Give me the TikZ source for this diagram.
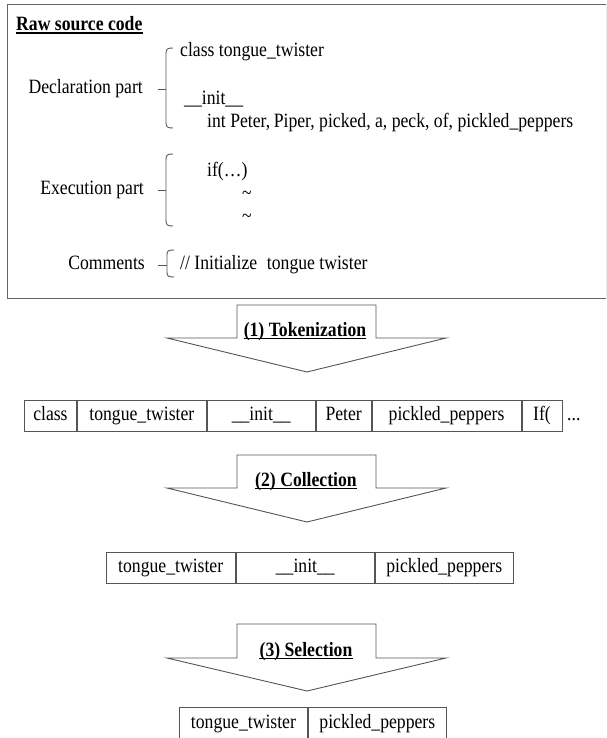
\documentclass[tikz,border=0pt]{standalone}
\usepackage{fontspec}
\setmainfont{Liberation Serif}
\definecolor{lc}{RGB}{85,85,85}
\definecolor{bc}{RGB}{100,100,100}
\newcommand{\nar}[1]{\scalebox{0.87}[1]{#1}}
\begin{document}
\begin{tikzpicture}[x=1pt,y=-1pt,
  every node/.style={font=\fontsize{20.3}{22}\selectfont, inner sep=0pt},
  txt/.style={anchor=mid west, yshift=-2.5pt},
  lbl/.style={anchor=mid east, yshift=-2.5pt},
  cell/.style={draw=lc, line width=0.9pt, minimum height=31pt, anchor=north west,
    inner sep=0pt, text height=13pt, text depth=4.5pt},
  brc/.style={draw=lc, line width=0.9pt},
  bigarrow/.style={draw=lc, line width=0.9pt, fill=white, line join=miter},
  steplabel/.style={font=\fontsize{20.3}{22}\selectfont\bfseries, anchor=base},
  uline/.style={draw=black, line width=1.1pt},
]
\useasboundingbox (0,0) rectangle (606,738);
\clip (0,0) rectangle (606,738);
\fill[white] (0,0) rectangle (606,738);

% ---------- raw source code box ----------
\draw[draw=bc, line width=1pt] (7,5) rectangle (606,298);
\node[font=\fontsize{20.3}{22}\selectfont\bfseries, anchor=base west] (raw) at (16,31) {\nar{Raw source code}};
\draw[uline] ([yshift=-2pt]raw.base west) -- ([yshift=-2pt]raw.base east);

\node[lbl] (decl) at (143,89) {\nar{Declaration part}};
\node[txt] (l1) at (180,52) {\nar{class tongue\_twister}};
\node[txt] (l2) at (184,100) {\nar{\_\_init\_\_}};
\node[txt] (l3) at (207,123) {\nar{int Peter,\kern-1pt\ Piper, picked, a, peck, of, pickled\_peppers}};
\draw[brc] (173,48) .. controls (167,48) and (166,49) .. (166,54) -- (166,122)
  .. controls (166,127) and (167,128) .. (173,128);
\draw[brc] (166,89) -- (158,89);

\node[lbl] (exec) at (144,190) {\nar{Execution part}};
\node[txt] (e1) at (207,172) {\nar{if(…)}};
\node[txt] (e2) at (242,195) {\nar{\textasciitilde}};
\node[txt] (e3) at (242,218) {\nar{\textasciitilde}};
\draw[brc] (173,154) .. controls (167,154) and (166,155) .. (166,160) -- (166,220)
  .. controls (166,225) and (167,226) .. (173,226);
\draw[brc] (166,190) -- (158,190);

\node[lbl] (comm) at (145,265) {\nar{Comments}};
\node[txt] (c1) at (180,265) {\nar{// Initialize\hspace{0.3em} tongue twister}};
\draw[brc] (174,250) .. controls (168,250) and (167,251) .. (167,255) -- (167,272)
  .. controls (167,276) and (168,277) .. (174,277);
\draw[brc] (167,265) -- (158,265);

% ---------- arrow 1 ----------
\draw[bigarrow] (237,305) -- (376,305) -- (376,338) -- (446,338) -- (307,372) -- (167,338) -- (237,338) -- cycle;
\node[steplabel] (s1) at (305,336.5) {\nar{(1) Tokenization}};
\draw[uline] ([yshift=-2pt]s1.base west) -- ([yshift=-2pt]s1.base east);

% ---------- token row 1 ----------
\node[cell, minimum width=52pt] (t1) at (24,400) {\nar{class}};
\node[cell, minimum width=129pt] (t2) at (t1.north east) {\nar{tongue\_twister}};
\node[cell, minimum width=108pt] (t3) at (t2.north east) {\nar{\_\_init\_\_}};
\node[cell, minimum width=55pt] (t4) at (t3.north east) {\nar{Peter}};
\node[cell, minimum width=149pt] (t5) at (t4.north east) {\nar{pickled\_peppers}};
\node[cell, minimum width=40pt] (t6) at (t5.north east) {\nar{If(}};
\node[anchor=base west] (t7) at (567,420) {\nar{...}};

% ---------- arrow 2 ----------
\draw[bigarrow] (237,455) -- (376,455) -- (376,488) -- (446,488) -- (307,522) -- (167,488) -- (237,488) -- cycle;
\node[steplabel] (s2) at (306,486.5) {\nar{(2) Collection}};
\draw[uline] ([yshift=-2pt]s2.base west) -- ([yshift=-2pt]s2.base east);

% ---------- token row 2 ----------
\node[cell, minimum width=129.5pt] (u1) at (105.5,552) {\nar{tongue\_twister}};
\node[cell, minimum width=138pt] (u2) at (u1.north east) {\nar{\_\_init\_\_}};
\node[cell, minimum width=138pt] (u3) at (u2.north east) {\nar{pickled\_peppers}};

% ---------- arrow 3 ----------
\draw[bigarrow] (237,624) -- (376,624) -- (376,658) -- (446,658) -- (307,691) -- (167,658) -- (237,658) -- cycle;
\node[steplabel] (s3) at (306,656.5) {\nar{(3) Selection}};
\draw[uline] ([yshift=-2pt]s3.base west) -- ([yshift=-2pt]s3.base east);

% ---------- token row 3 ----------
\node[cell, minimum width=128pt, minimum height=34pt] (v1) at (179,707) {\nar{tongue\_twister}};
\node[cell, minimum width=138pt, minimum height=34pt] (v2) at (v1.north east) {\nar{pickled\_peppers}};
\end{tikzpicture}
\end{document}
